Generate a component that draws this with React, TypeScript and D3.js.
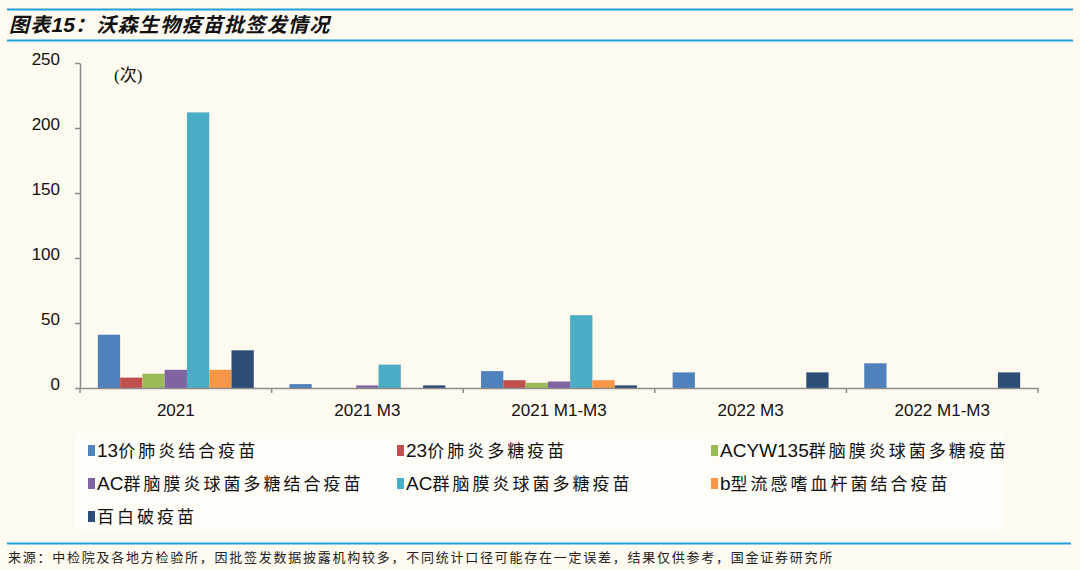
import * as d3 from 'd3';
import React, { useEffect, useRef } from 'react';

const categories = ['2021', '2021 M3', '2021 M1-M3', '2022 M3', '2022 M1-M3'];
const seriesNames = [
  '13价肺炎结合疫苗',
  '23价肺炎多糖疫苗',
  'ACYW135群脑膜炎球菌多糖疫苗',
  'AC群脑膜炎球菌多糖结合疫苗',
  'AC群脑膜炎球菌多糖疫苗',
  'b型流感嗜血杆菌结合疫苗',
  '百白破疫苗',
];
const seriesColors = ['#4F81BD', '#C0504D', '#9BBB59', '#8064A2', '#4BACC6', '#F79646', '#2C4D75'];
// one array per series, in category order
const pcv13 = [41, 3, 13, 12, 19];
const ppv23 = [8, 0, 6, 0, 0];
const acyw135 = [11, 0, 4, 0, 0];
const acConj = [14, 2, 5, 0, 0];
const acPoly = [212, 18, 56, 0, 0];
const hib = [14, 0, 6, 0, 0];
const dtap = [29, 2, 2, 12, 12];
const seriesValues = [pcv13, ppv23, acyw135, acConj, acPoly, hib, dtap];
const yTicks = [0, 50, 100, 150, 200, 250];

const title = '图表15：沃森生物疫苗批签发情况';
const unitLabel = '(次)';
const sourceNote = '来源：中检院及各地方检验所，因批签发数据披露机构较多，不同统计口径可能存在一定误差，结果仅供参考，国金证券研究所';

// split a label into latin and CJK runs so only the CJK part gets extra spacing
const splitRuns = (s: string) => s.match(/[A-Za-z0-9 ]+|[^A-Za-z0-9 ]+/g) ?? [s];

const App: React.FC = () => {
  const svgRef = useRef<SVGSVGElement | null>(null);

  useEffect(() => {
    document.body.style.margin = '0';
    const width = 1080;
    const height = 570;
    const plot = { left: 80, right: 1038, top: 63, bottom: 388 };
    const sans = '"Liberation Sans", Arial, "Noto Sans CJK SC", sans-serif';
    const axisColor = '#8c8c8c';
    const lineBlue = '#1D9FDB';

    const svg = d3.select(svgRef.current);
    svg.selectAll('*').remove();
    svg.attr('width', width).attr('height', height).attr('viewBox', `0 0 ${width} ${height}`).style('display', 'block');

    svg.append('rect').attr('width', width).attr('height', height).attr('fill', '#FFFAF0');

    // header
    svg.append('line').attr('x1', 7).attr('x2', 1073).attr('y1', 9.5).attr('y2', 9.5).attr('stroke', lineBlue).attr('stroke-width', 2);
    svg.append('line').attr('x1', 7).attr('x2', 1073).attr('y1', 40.5).attr('y2', 40.5).attr('stroke', lineBlue).attr('stroke-width', 2);
    const titleText = svg
      .append('text')
      .attr('x', 9)
      .attr('y', 32)
      .attr('font-family', sans)
      .attr('font-size', 20)
      .attr('font-weight', 'bold')
      .attr('font-style', 'italic')
      .attr('fill', '#111');
    splitRuns(title).forEach((run) => {
      titleText
        .append('tspan')
        .attr('letter-spacing', /[0-9]/.test(run) ? 0 : 1.3)
        .attr('font-size', /[0-9]/.test(run) ? 21 : 20)
        .text(run);
    });

    const x0 = d3.scaleBand<string>().domain(categories).range([plot.left, plot.right]);
    const barW = x0.bandwidth() / 8.6;
    const x1 = d3
      .scaleBand<string>()
      .domain(seriesNames)
      .range([0, barW * seriesNames.length]);
    const offset = (x0.bandwidth() - barW * seriesNames.length) / 2;

    const y = d3.scaleLinear().domain([0, 250]).range([plot.bottom, plot.top]);

    // y axis
    const yAxis = svg
      .append('g')
      .attr('transform', `translate(${plot.left},0)`)
      .call(d3.axisLeft(y).tickValues(yTicks).tickSize(5).tickPadding(15).tickSizeOuter(0));
    yAxis.select('.domain').attr('stroke', axisColor).attr('stroke-width', 1.5);
    yAxis.selectAll('.tick line').attr('stroke', axisColor).attr('stroke-width', 1.5);
    yAxis.selectAll('.tick text').attr('font-family', sans).attr('font-size', 17).attr('fill', '#111').attr('dy', '0.1em');

    svg
      .append('text')
      .attr('x', 114)
      .attr('y', 81)
      .attr('font-family', '"Liberation Serif", "Noto Sans CJK SC", serif')
      .attr('font-size', 17)
      .attr('fill', '#111')
      .text(unitLabel);

    // bars
    seriesNames.forEach((name, si) => {
      svg
        .append('g')
        .selectAll('rect')
        .data(seriesValues[si])
        .join('rect')
        .attr('x', (_, i) => x0(categories[i])! + offset + x1(name)!)
        .attr('y', (d) => y(d))
        .attr('width', barW)
        .attr('height', (d) => plot.bottom - y(d))
        .attr('fill', seriesColors[si]);
    });

    // x axis
    const xAxis = svg
      .append('g')
      .attr('transform', `translate(0,${plot.bottom})`)
      .call(d3.axisBottom(x0).tickSize(0).tickPadding(16).tickSizeOuter(0));
    xAxis.select('.domain').attr('stroke', axisColor).attr('stroke-width', 1.5);
    xAxis.selectAll('.tick text').attr('font-family', sans).attr('font-size', 17).attr('fill', '#111');
    const bounds = [...categories.map((c) => x0(c)!), plot.right];
    xAxis
      .selectAll('line.bound')
      .data(bounds)
      .join('line')
      .attr('class', 'bound')
      .attr('x1', (d) => d)
      .attr('x2', (d) => d)
      .attr('y1', 0)
      .attr('y2', 5)
      .attr('stroke', axisColor)
      .attr('stroke-width', 1.5);

    // legend
    svg.append('rect').attr('x', 74).attr('y', 433).attr('width', 929).attr('height', 97).attr('fill', '#FFFDF8');
    const colX = [88, 397, 711];
    const rowY = [450, 483, 516];
    const legend = svg
      .append('g')
      .selectAll('g')
      .data(seriesNames)
      .join('g')
      .attr('transform', (_, i) => `translate(${colX[i % 3]},${rowY[Math.floor(i / 3)]})`);
    legend
      .append('rect')
      .attr('x', 0)
      .attr('y', -5)
      .attr('width', 7)
      .attr('height', 11)
      .attr('fill', (_, i) => seriesColors[i]);
    legend.each(function (d) {
      const t = d3
        .select(this)
        .append('text')
        .attr('x', 9)
        .attr('y', 7)
        .attr('font-family', sans)
        .attr('font-size', 17)
        .attr('fill', '#111');
      splitRuns(d).forEach((run) => {
        const latin = /[A-Za-z0-9]/.test(run);
        t.append('tspan')
          .attr('font-size', latin ? 19 : 17)
          .attr('letter-spacing', latin ? 0 : 3)
          .text(run);
      });
    });

    // footer
    svg.append('line').attr('x1', 7).attr('x2', 1071).attr('y1', 543.5).attr('y2', 543.5).attr('stroke', lineBlue).attr('stroke-width', 2);
    svg
      .append('text')
      .attr('x', 8)
      .attr('y', 562)
      .attr('font-family', '"Noto Sans CJK SC", sans-serif')
      .attr('font-size', 13)
      .attr('letter-spacing', 1.75)
      .attr('fill', '#222')
      .text(sourceNote);
  }, []);

  return <svg ref={svgRef}></svg>;
};

export default App;
